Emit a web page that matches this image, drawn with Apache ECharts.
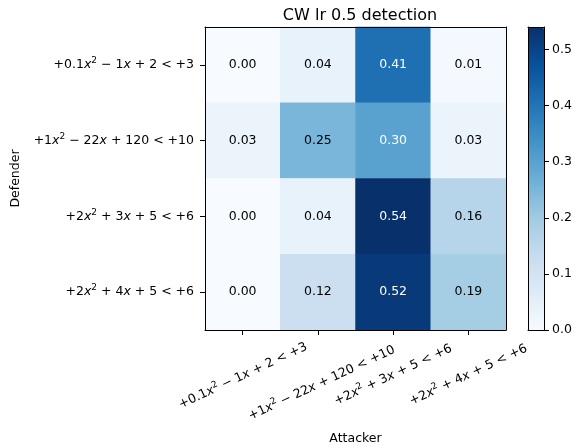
<!DOCTYPE html>
<html><head><meta charset="utf-8">
<script src="https://cdn.jsdelivr.net/npm/echarts@6/dist/echarts.min.js"></script>
<style>html,body{margin:0;padding:0;background:#fff}#c{width:576px;height:448px}</style>
</head><body><div id="c"></div>
<script>
var attackers = ['+0.1x^2 − 1x + 2 < +3', '+1x^2 − 22x + 120 < +10', '+2x^2 + 3x + 5 < +6', '+2x^2 + 4x + 5 < +6'];
var defenders = ['+0.1x^2 − 1x + 2 < +3', '+1x^2 − 22x + 120 < +10', '+2x^2 + 3x + 5 < +6', '+2x^2 + 4x + 5 < +6'];
// rows: defenders (top to bottom), cols: attackers
var values = [
  [0.00, 0.04, 0.41, 0.01],
  [0.03, 0.25, 0.30, 0.03],
  [0.00, 0.04, 0.54, 0.16],
  [0.00, 0.12, 0.52, 0.19]
];
var colorbarTicks = [0.0, 0.1, 0.2, 0.3, 0.4, 0.5];
var vmin = 0, vmax = 0.54;

var FONT = 'DejaVu Sans';
var FS = 12.5;
function mathFmt(s) {
  return s.replace(/x\^2/g, '{i|x}{s|2}').replace(/x(?!\})/g, '{i|x}');
}
var rich = {
  i: {fontStyle: 'italic', fontFamily: FONT, fontSize: FS, color: '#000'},
  s: {fontFamily: FONT, fontSize: 9, color: '#000', padding: [0, 0, 8, 0]}
};
var thr = (vmin + vmax) / 2;
var data = [];
for (var r = 0; r < defenders.length; r++) {
  for (var c = 0; c < attackers.length; c++) {
    var v = values[r][c];
    data.push({value: [c, r, v], label: {color: v > thr ? '#fff' : '#000'}});
  }
}
// matplotlib centres rotated labels under the tick; emulate with per-label downward shift
var xLabelPad = [2, 18, 0, 0];
var xCats = attackers.map(function (a, i) {
  return {value: a, textStyle: {align: 'center', verticalAlign: 'middle', padding: [xLabelPad[i], 0, 0, 0]}};
});
function frameAxis(type, grid, pos, extra) {
  var o = {type: type, gridIndex: grid, position: pos, z: 10,
    axisLine: {show: true, onZero: false, lineStyle: {color: '#000', width: 1}},
    axisTick: {show: false}, axisLabel: {show: false}, splitLine: {show: false}};
  for (var k in extra) o[k] = extra[k];
  return o;
}
var chart = echarts.init(document.getElementById('c'));
chart.setOption({
  animation: false,
  backgroundColor: '#fff',
  textStyle: {fontFamily: FONT},
  title: {text: 'CW lr 0.5 detection', left: 355, top: 3, textAlign: 'center',
    textStyle: {fontFamily: FONT, fontSize: 16, fontWeight: 'normal', color: '#000'}},
  grid: [
    {left: 205, top: 27, width: 301, height: 303, containLabel: false, outerBoundsMode: 'none'},
    {left: 528, top: 27, width: 16, height: 303, containLabel: false, outerBoundsMode: 'none'}
  ],
  xAxis: [
    {type: 'category', data: xCats, gridIndex: 0, position: 'bottom', z: 10,
     name: 'Attacker', nameLocation: 'middle', nameGap: 102,
     nameTextStyle: {fontFamily: FONT, fontSize: FS, color: '#000'},
     axisLine: {show: true, lineStyle: {color: '#000', width: 1}},
     axisTick: {show: true, alignWithLabel: true, length: 5, lineStyle: {color: '#000'}},
     axisLabel: {rotate: 25, margin: 45, align: 'center', verticalAlign: 'middle',
       fontFamily: FONT, fontSize: FS, color: '#000', formatter: mathFmt, rich: rich, interval: 0},
     splitLine: {show: false}},
    frameAxis('category', 0, 'top', {data: attackers}),
    frameAxis('value', 1, 'bottom', {min: 0, max: 1}),
    frameAxis('value', 1, 'top', {min: 0, max: 1})
  ],
  yAxis: [
    {type: 'category', data: defenders, gridIndex: 0, inverse: true, position: 'left', z: 10,
     name: 'Defender', nameLocation: 'middle', nameGap: 181, nameRotate: 90,
     nameTextStyle: {fontFamily: FONT, fontSize: FS, color: '#000'},
     axisLine: {show: true, lineStyle: {color: '#000', width: 1}},
     axisTick: {show: true, alignWithLabel: true, length: 5, lineStyle: {color: '#000'}},
     axisLabel: {margin: 11, fontFamily: FONT, fontSize: FS, color: '#000', formatter: mathFmt, rich: rich, interval: 0},
     splitLine: {show: false}},
    frameAxis('category', 0, 'right', {data: defenders, inverse: true}),
    {type: 'value', gridIndex: 1, position: 'right', min: vmin, max: vmax, interval: 0.1, z: 10,
     axisLine: {show: true, onZero: false, lineStyle: {color: '#000', width: 1}},
     axisTick: {show: true, length: 5, lineStyle: {color: '#000'}},
     axisLabel: {margin: 8, fontFamily: FONT, fontSize: FS, color: '#000', showMaxLabel: false,
       formatter: function (v) {
         for (var i = 0; i < colorbarTicks.length; i++) if (Math.abs(v - colorbarTicks[i]) < 1e-9) return colorbarTicks[i].toFixed(1);
         return '';
       }},
     splitLine: {show: false}},
    frameAxis('value', 1, 'left', {min: vmin, max: vmax})
  ],
  visualMap: {
    type: 'continuous', min: vmin, max: vmax, seriesIndex: 0, calculable: false,
    orient: 'vertical', left: 523, top: 22, itemWidth: 16, itemHeight: 303,
    text: null, showLabel: false, padding: 5,
    inRange: {color: ['#f7fbff', '#deebf7', '#c6dbef', '#9ecae1', '#6baed6', '#4292c6', '#2171b5', '#08519c', '#08306b']}
  },
  series: [
    {type: 'heatmap', xAxisIndex: 0, yAxisIndex: 0, data: data,
     label: {show: true, fontFamily: FONT, fontSize: FS,
       formatter: function (p) { return p.value[2].toFixed(2); }},
     itemStyle: {borderWidth: 0}},
    {type: 'scatter', xAxisIndex: 2, yAxisIndex: 2, data: [], silent: true}
  ]
});
</script></body></html>
